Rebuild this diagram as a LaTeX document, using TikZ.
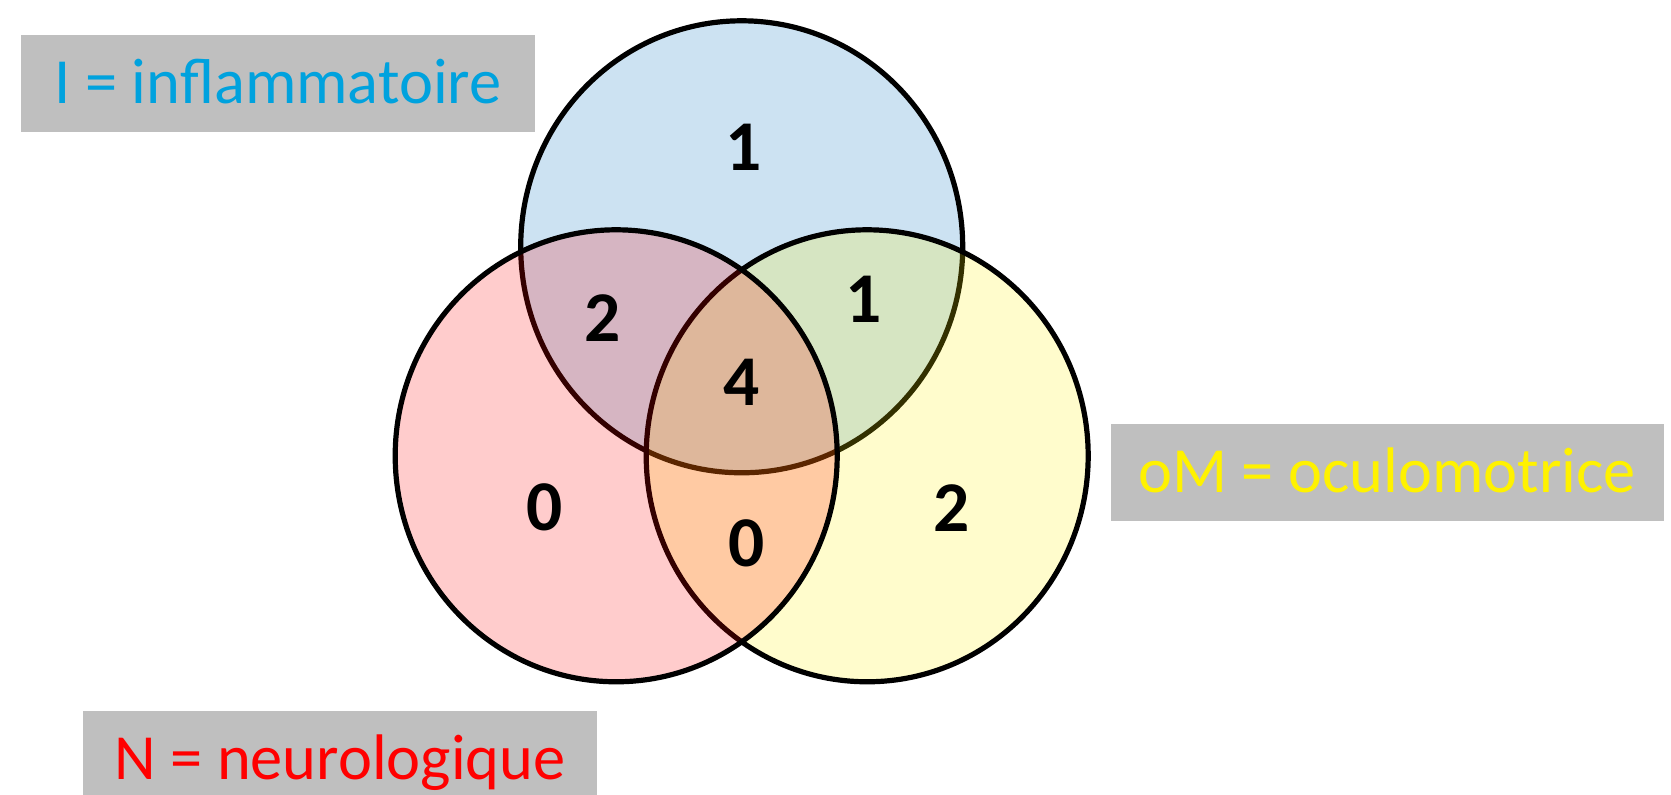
\documentclass[tikz,border=0pt]{standalone}
\usepackage{fontspec}
\setmainfont{Carlito}
\definecolor{legendgray}{HTML}{BFBFBF}
\definecolor{setblue}{HTML}{0070C0}
\definecolor{labelblue}{HTML}{00A2DE}
\begin{document}
\begin{tikzpicture}[x=0.5pt,y=-0.5pt,
  setline/.style={line width=2.6pt, draw=black, fill opacity=0.2},
  count/.style={font=\fontsize{35.7}{40}\selectfont\bfseries, inner sep=0pt, text=black},
  legend/.style={fill=legendgray, inner sep=0pt, minimum height=48.5pt,
    text height=20.5pt, text depth=0pt, font=\fontsize{32.2}{38}\selectfont},
]
\useasboundingbox (0,0) rectangle (1671,795);

% the three sets, drawn in this order so later fills tint earlier outlines
\draw[setline, fill=setblue] (741.7,246.8) ellipse [x radius=110.5pt, y radius=113pt];
\draw[setline, fill=yellow] (867.2,455.8) ellipse [x radius=110.5pt, y radius=113pt];
\draw[setline, fill=red] (616.2,455.8) ellipse [x radius=110.5pt, y radius=113pt];

% counts per region
\node[count] (onlyI)  at (743.5,147.7) {1};
\node[count] (IN)     at (602.7,317.6) {2};
\node[count] (IoM)    at (863.3,299.5) {1};
\node[count] (all)    at (741.7,382.1) {4};
\node[count] (onlyN)  at (544.6,507.6) {0};
\node[count] (NoM)    at (746.3,543.5) {0};
\node[count] (onlyoM) at (952.0,507.6) {2};

% legend
\node[legend, minimum width=257pt, text=labelblue] (inflam) at (278,83.5) {I = inflammatoire};
\node[legend, minimum width=276.5pt, text=yellow] (oculo) at (1387,472.5) {oM = oculomotrice};
\node[legend, minimum width=257pt, text=red] (neuro) at (340,759.5) {N = neurologique};
\end{tikzpicture}
\end{document}
